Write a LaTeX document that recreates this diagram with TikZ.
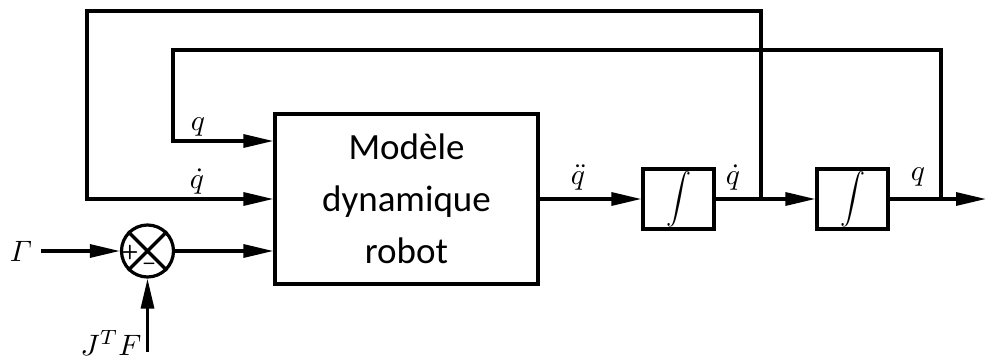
\documentclass[tikz,border=0pt]{standalone}
\usepackage{amsmath}
\usepackage{fontspec}
\newfontfamily\blockfont{Carlito}
\usetikzlibrary{arrows.meta}
\newcommand{\lblmath}[1]{\scalebox{2.95}{$#1$}}
\begin{document}
\begin{tikzpicture}[x=1pt,y=-1pt, line width=3.2pt,
  sig/.style={-{Triangle[length=30pt,width=13pt]}},
  blk/.style={draw, rectangle, inner sep=0pt, line width=3.2pt},
  lbl/.style={inner sep=0pt}]
\useasboundingbox (0,0) rectangle (987,361);
% blocks
\node[blk, minimum width=263pt, minimum height=170pt, align=center,
      font=\blockfont\fontsize{37}{52}\selectfont] (model) at (406.5,199) {Modèle\\dynamique\\robot};
\node[blk, minimum width=71pt, minimum height=60pt] (int1) at (678.5,199) {\scalebox{2.5}{$\displaystyle\int$}};
\node[blk, minimum width=71pt, minimum height=60pt] (int2) at (852.5,199) {\scalebox{2.5}{$\displaystyle\int$}};
\node[draw, circle, minimum size=52pt, inner sep=0pt] (sum) at (147.5,251) {};
\draw (sum.north west) -- (sum.south east) (sum.north east) -- (sum.south west);
\node[font=\sffamily\bfseries\fontsize{20}{20}\selectfont, inner sep=0pt] (plus) at (130,252) {+};
\node[font=\sffamily\bfseries\fontsize{20}{20}\selectfont, inner sep=0pt] (minus) at (149,266) {--};
% coordinates
\coordinate (gs) at (41,251);
\coordinate (jt) at (147.5,352);
\coordinate (j1) at (761,199);
\coordinate (j2) at (941,199);
\coordinate (out) at (986,199);
\coordinate (qy) at (0,141);
% labels
\node[lbl] (gl) at (21,251) {\lblmath{\varGamma}};
\node[lbl] (jl) at (111,343) {\lblmath{J^T F}};
\node[lbl] (lq) at (198,127) {\lblmath{q}};
\node[lbl] (lqd) at (197,182) {\lblmath{\dot q}};
\node[lbl] (lqdd) at (578,178) {\lblmath{\ddot q}};
\node[lbl] (lqd2) at (733,178) {\lblmath{\dot q}};
\node[lbl] (lq2) at (918,177) {\lblmath{q}};
% connectors
\draw[sig] (gs) -- (sum.west);
\draw[sig] (sum.east) -- (sum.east -| model.west);
\draw[sig] (jt) -- (sum.south);
\draw[sig] (model.east) -- (int1.west);
\draw[sig] (int1.east) -- (int2.west);
\draw[sig] (int2.east) -- (out);
\draw[sig] (j1) -- (761,11) -- (87,11) -- (87,199) -- (model.west);
\draw[sig] (j2) -- (941,50) -- (173,50) -- (173,141) -- (model.west |- qy);
\end{tikzpicture}
\end{document}
